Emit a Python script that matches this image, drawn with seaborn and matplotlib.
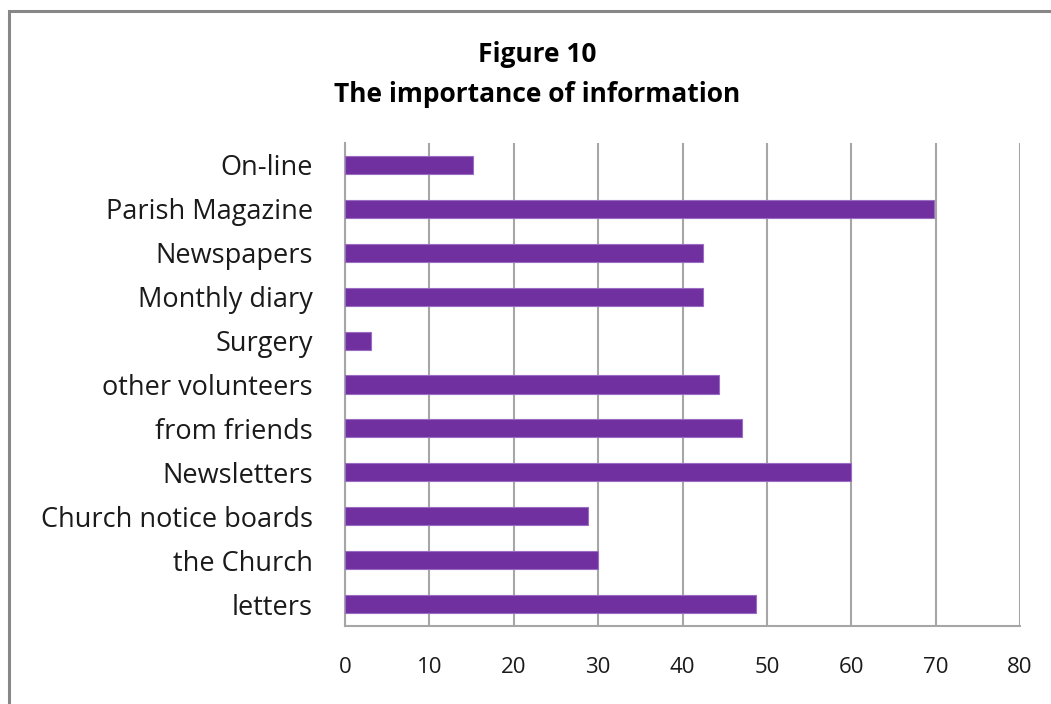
import matplotlib
matplotlib.use("Agg")
import matplotlib.pyplot as plt
import seaborn as sns
import pandas as pd
from matplotlib.patches import Rectangle

categories = ["On-line", "Parish Magazine", "Newspapers", "Monthly diary", "Surgery",
              "other volunteers", "from friends", "Newsletters", "Church notice boards",
              "the Church", "letters"]
values = [15.2, 69.8, 42.4, 42.4, 3.1, 44.3, 47.0, 60.0, 28.8, 30.0, 48.7]
x_ticks = [0, 10, 20, 30, 40, 50, 60, 70, 80]
title_lines = ["Figure 10", "The importance of information"]

df = pd.DataFrame({"category": categories, "value": values})

sns.set_theme(style="white")
plt.rcParams["font.family"] = ["Open Sans", "DejaVu Sans"]

W, H = 1051, 704
fig = plt.figure(figsize=(W / 100, H / 100), dpi=100)
fig.patch.set_facecolor("white")

# outer chart frame (only left/top visible)
fig.patches.append(Rectangle((9 / W, -0.05), 1.2, 1 - 11 / H + 0.05, transform=fig.transFigure,
                             fill=False, edgecolor="#878787", linewidth=2.2, zorder=0))

ax = fig.add_axes([345 / W, 1 - 626 / H, (1020 - 345) / W, (626 - 143) / H])
sns.barplot(data=df, x="value", y="category", orient="h", ax=ax, color="#7030A0",
            saturation=1, width=0.41, edgecolor="#9a6cc4", linewidth=0.8, zorder=3)

ax.set_xlim(0, 80)
ax.set_xticks(x_ticks)
ax.set_xticklabels([str(t) for t in x_ticks])
ax.set_xlabel("")
ax.set_ylabel("")
ax.grid(axis="x", color="#a6a6a6", linewidth=1.5, zorder=0)
ax.grid(axis="y", visible=False)
for s in ["top", "right"]:
    ax.spines[s].set_visible(False)
for s in ["left", "bottom"]:
    ax.spines[s].set_visible(True)
    ax.spines[s].set_color("#a6a6a6")
    ax.spines[s].set_linewidth(1.5)
ax.tick_params(axis="x", length=0, pad=22, labelsize=16, labelcolor="#1a1a1a")
ax.tick_params(axis="y", length=0, pad=23, labelsize=19.5, labelcolor="#1a1a1a")
ax.set_axisbelow(True)

fig.text(537 / W, 1 - 55 / H, title_lines[0], ha="center", va="center",
         fontsize=19, fontweight="bold", color="#000000")
fig.text(537 / W, 1 - 94 / H, title_lines[1], ha="center", va="center",
         fontsize=19, fontweight="bold", color="#000000")

fig.savefig("out.png", dpi=100, facecolor="white")
